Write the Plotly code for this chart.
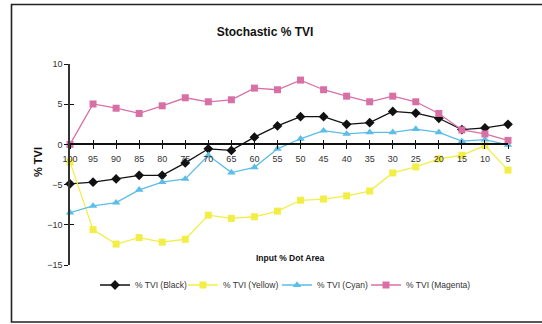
import plotly.graph_objects as go

# Input dot area (%) along the horizontal axis
dot_area = ["100", "95", "90", "85", "80", "75", "70", "65", "60", "55",
            "50", "45", "40", "35", "30", "25", "20", "15", "10", "5"]

# Tone value increase (%) per ink
tvi_black = [-4.9, -4.7, -4.3, -3.85, -3.85, -2.3, -0.55, -0.75, 0.9, 2.3,
             3.45, 3.45, 2.5, 2.7, 4.1, 3.9, 3.25, 1.85, 2.05, 2.5]
tvi_yellow = [-2.2, -10.6, -12.4, -11.6, -12.15, -11.8, -8.8, -9.2, -9.0, -8.3,
              -6.95, -6.8, -6.4, -5.8, -3.55, -2.8, -1.8, -1.35, -0.15, -3.2]
tvi_cyan = [-8.5, -7.65, -7.25, -5.65, -4.7, -4.3, -1.35, -3.5, -2.85, -0.55,
            0.7, 1.7, 1.3, 1.5, 1.5, 1.9, 1.5, 0.4, 0.6, -0.05]
tvi_magenta = [0.0, 5.03, 4.5, 3.85, 4.8, 5.8, 5.3, 5.55, 7.0, 6.8,
               8.0, 6.8, 6.0, 5.3, 6.0, 5.3, 3.85, 1.8, 1.3, 0.5]

y_ticks = [-15, -10, -5, 0, 5, 10]

pos = list(range(len(dot_area)))

series = [
    ("% TVI (Black)", tvi_black, "#111111", "diamond", 7.5),
    ("% TVI (Yellow)", tvi_yellow, "#F2EE46", "square", 7),
    ("% TVI (Cyan)", tvi_cyan, "#5BBDE8", "triangle-up", 7.5),
    ("% TVI (Magenta)", tvi_magenta, "#D870A6", "square", 7),
]

L, R, T, B = 70, 34, 64, 59
W, H = 542, 324
pw, ph = W - L - R, H - T - B


def px(x):
    return (x - L) / pw


def py(y):
    return (H - B - y) / ph


# one legend box per series, laid out in a row below the plot
legend_ids = ["legend", "legend2", "legend3", "legend4"]
legend_left = [95, 183, 277, 366]

fig = go.Figure()
for (name, vals, col, sym, sz), lid in zip(series, legend_ids):
    fig.add_trace(go.Scatter(
        x=pos, y=vals, name=name, mode="lines+markers",
        line=dict(color=col, width=1.3),
        marker=dict(symbol=sym, size=sz, color=col, line=dict(width=0)),
        cliponaxis=False, legend=lid,
    ))

# invisible trace carrying the secondary axes used for crossing tick marks
fig.add_trace(go.Scatter(x=[pos[0]], y=[0], xaxis="x2", yaxis="y2",
                         mode="markers", marker=dict(opacity=0),
                         showlegend=False, hoverinfo="skip"))

yr = [-15, 10]
x_pos = (0 - yr[0]) / (yr[1] - yr[0])
tick_font = dict(family="Liberation Sans, Arial, sans-serif", size=9, color="#333333")

legend_layout = {
    lid: dict(orientation="h", x=px(xl), xanchor="left", y=py(285), yanchor="middle",
              font=dict(size=8.5, color="#333333"), itemwidth=30,
              bgcolor="rgba(0,0,0,0)")
    for lid, xl in zip(legend_ids, legend_left)
}

fig.update_layout(
    width=W, height=H,
    margin=dict(l=L, r=R, t=T, b=B),
    paper_bgcolor="white", plot_bgcolor="white",
    font=dict(family="Liberation Sans, Arial, sans-serif", color="#222222"),
    title=dict(text="<b>Stochastic % TVI</b>", xref="paper", x=px(265), xanchor="center",
               yref="container", y=1 - 32 / H, yanchor="middle",
               font=dict(size=12, color="#111111")),
    xaxis=dict(
        range=[pos[0], pos[-1]], tickmode="array", tickvals=pos, ticktext=dot_area,
        anchor="free", position=x_pos, showline=True, linecolor="#111111", linewidth=1.5,
        ticks="outside", ticklen=4, tickwidth=1.2, tickcolor="#111111",
        showgrid=False, zeroline=False, tickfont=tick_font, ticklabelstandoff=2,
    ),
    xaxis2=dict(
        range=[pos[0], pos[-1]], tickmode="array", tickvals=pos, overlaying="x",
        anchor="free", position=x_pos, showline=False,
        ticks="inside", ticklen=4, tickwidth=1.2, tickcolor="#111111",
        showticklabels=False, showgrid=False, zeroline=False,
    ),
    yaxis=dict(
        range=yr, tickmode="array", tickvals=y_ticks,
        showline=True, linecolor="#333333", linewidth=1.5,
        ticks="outside", ticklen=4, tickwidth=1.2, tickcolor="#111111",
        showgrid=False, zeroline=False, tickfont=tick_font,
    ),
    yaxis2=dict(
        range=yr, tickmode="array", tickvals=y_ticks, overlaying="y", side="left",
        anchor="x", ticks="inside", ticklen=4, tickwidth=1.2, tickcolor="#111111",
        showticklabels=False, showgrid=False, zeroline=False, showline=False,
    ),
    annotations=[
        dict(text="<b>% TVI</b>", xref="paper", yref="paper", x=px(38), y=py(162),
             textangle=-90, showarrow=False, font=dict(size=11, color="#111111"),
             xanchor="center", yanchor="middle"),
        dict(text="<b>Input % Dot Area</b>", xref="paper", yref="paper", x=px(290),
             y=py(258), showarrow=False, font=dict(size=8.5, color="#111111"),
             xanchor="center", yanchor="middle"),
    ],
    shapes=[
        dict(type="rect", xref="paper", yref="paper",
             x0=px(11.5), x1=px(560), y0=py(322), y1=py(4.5),
             line=dict(color="#222222", width=1.6), layer="below"),
    ],
    showlegend=True,
    **legend_layout,
)

fig.write_html("out.html")
